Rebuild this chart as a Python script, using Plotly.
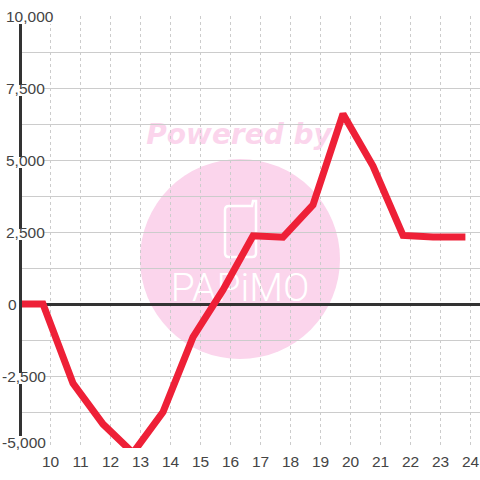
import plotly.graph_objects as go

hours = [8.88, 9.75, 10.75, 11.75, 12.75, 13.75, 14.75, 15.75, 16.75, 17.75, 18.75, 19.75, 20.75, 21.75, 22.75, 23.83]
values = [0, 0, -2750, -4170, -5170, -3750, -1150, 490, 2370, 2320, 3440, 6600, 4790, 2380, 2330, 2330]
x_ticks = list(range(10, 25))
y_ticks = [-5000, -2500, 0, 2500, 5000, 7500, 10000]
y_grid = [-5000, -3750, -2500, -1250, 0, 1250, 2500, 3750, 5000, 6250, 7500, 8750, 10000]
y_labels = ["-5,000", "-2,500", "0", "2,500", "5,000", "7,500", "10,000"]

W = 480
px = lambda v: v / W
py = lambda v: 1 - v / W

INK = "#444444"
AXIS = "#333333"
GRID = "#cccccc"
PINK = "#fbd5ec"
RED = "#ee2037"
FONT = "Liberation Sans, Arial, sans-serif"

label_left = {"-5,000": 2, "-2,500": 2, "0": 8, "2,500": 6, "5,000": 6, "7,500": 6, "10,000": 6}
label_right = {"-5,000": 44, "-2,500": 44, "0": 17, "2,500": 44, "5,000": 44, "7,500": 44, "10,000": 53}

fig = go.Figure()

# Watermark text sits in a lower subplot, so the chart's grid runs over it.
fig.add_trace(go.Scatter(x=[239], y=[137], mode="text", text=["Powered by"], xaxis="x", yaxis="y",
                         textfont=dict(family="DejaVu Sans", size=28, color=PINK, weight="bold", style="italic"),
                         hoverinfo="skip", showlegend=False, cliponaxis=False))
fig.add_trace(go.Scatter(x=[240], y=[291], mode="text", text=["PAPiMO"], xaxis="x", yaxis="y",
                         textfont=dict(family="Roboto", size=39, color="white", weight=300),
                         hoverinfo="skip", showlegend=False, cliponaxis=False))

fig.add_trace(go.Scatter(x=hours, y=values, mode="lines", xaxis="x2", yaxis="y2",
                         line=dict(color=RED, width=7), cliponaxis=False,
                         hoverinfo="skip", showlegend=False))

shapes = [
    dict(type="circle", xref="paper", yref="paper", layer="below",
         x0=px(140), x1=px(340), y0=py(359), y1=py(159),
         fillcolor=PINK, line=dict(width=0)),
    dict(type="path", xref="paper", yref="paper", layer="below",
         path=" ".join([
             f"M{px(229)},{py(206)}", f"L{px(252)},{py(206)}", f"L{px(253)},{py(201)}",
             f"L{px(256)},{py(201)}", f"L{px(256)},{py(253)}", f"Q{px(256)},{py(257)} {px(252)},{py(257)}",
             f"L{px(229)},{py(257)}", f"Q{px(225)},{py(257)} {px(225)},{py(253)}",
             f"L{px(225)},{py(210)}", f"Q{px(225)},{py(206)} {px(229)},{py(206)}", "Z"]),
         line=dict(color="white", width=2.5)),
]

pix = lambda v: 304 - v * 36 / 1250
annotations = []
for value, label in zip(y_ticks, y_labels):
    centre = pix(value)
    if value == -5000:
        top, bottom, text_y = 436, 448, centre - 6
    elif value == 10000:
        top, bottom, text_y = 8, 24, centre + 0.5
    else:
        top, bottom, text_y = centre - 3, centre + 8, centre + 0.5
    shapes.append(dict(type="rect", xref="paper", yref="paper", layer="above",
                       x0=px(label_left[label]), x1=px(label_right[label]),
                       y0=py(bottom), y1=py(top), fillcolor="white", line=dict(width=0)))
    annotations.append(dict(xref="paper", yref="paper", x=px(label_left[label]), y=py(text_y),
                            xanchor="left", yanchor="middle", text=label, showarrow=False,
                            font=dict(family=FONT, size=15.5, color=INK), borderpad=0, borderwidth=0))

fig.update_layout(
    width=W, height=W, autosize=False,
    margin=dict(l=0, r=0, t=0, b=0),
    paper_bgcolor="white", plot_bgcolor="rgba(0,0,0,0)",
    showlegend=False, shapes=shapes, annotations=annotations,
    xaxis=dict(domain=[0, 1], range=[0, W], visible=False, fixedrange=True, anchor="y"),
    yaxis=dict(domain=[0, 1], range=[W, 0], visible=False, fixedrange=True, anchor="x"),
    xaxis2=dict(domain=[px(22), 1], range=[9.05, 24.3167], anchor="y2", tickmode="array",
                tickvals=x_ticks, ticktext=[str(t) for t in x_ticks], ticks="", showline=False,
                showgrid=True, gridcolor=GRID, gridwidth=1, griddash="3px,3px", zeroline=False,
                ticklabelstandoff=2,
                tickfont=dict(family=FONT, size=15.5, color=INK), fixedrange=True),
    yaxis2=dict(domain=[py(448), py(16)], range=[-5000, 10000], anchor="x2", tickmode="array",
                tickvals=y_grid, showticklabels=False, ticks="", showline=True, linecolor=AXIS, linewidth=3,
                showgrid=True, gridcolor=GRID, gridwidth=1, zeroline=True, zerolinecolor=AXIS,
                zerolinewidth=3, fixedrange=True),
)

fig.write_html("out.html", config=dict(displayModeBar=False),
               post_script="document.body.style.margin='0';document.documentElement.style.overflow='hidden';")
